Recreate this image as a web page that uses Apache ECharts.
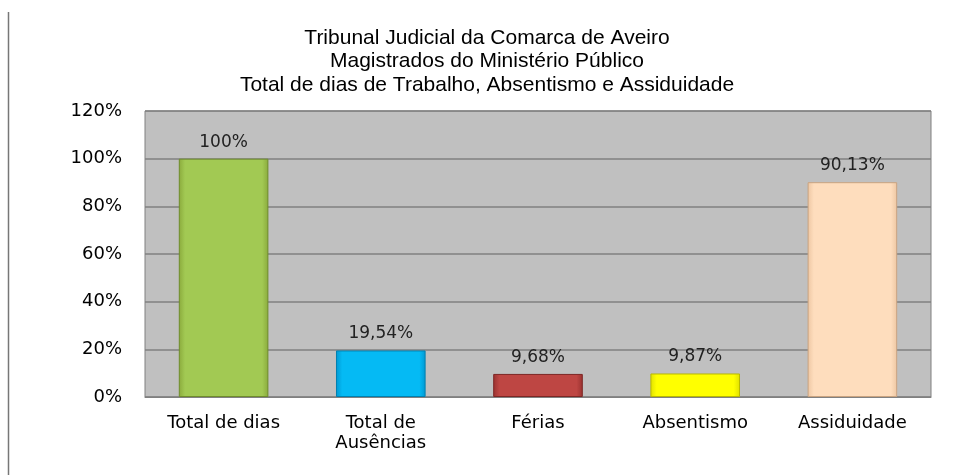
<!DOCTYPE html>
<html>
<head>
<meta charset="utf-8">
<script src="https://cdn.jsdelivr.net/npm/echarts@6/dist/echarts.min.js"></script>
<style>
  html, body { margin: 0; padding: 0; background: #fff; }
  #chart { width: 974px; height: 475px; }
</style>
</head>
<body>
<div id="chart"></div>
<script>
// dados
const categorias = ['Total de dias', 'Total de\nAusências', 'Férias', 'Absentismo', 'Assiduidade']
const valores = [100, 19.54, 9.68, 9.87, 90.13]
const rotulos = ['100%', '19,54%', '9,68%', '9,87%', '90,13%']
const titulo = 'Tribunal Judicial da Comarca de Aveiro\nMagistrados do Ministério Público\nTotal de dias de Trabalho, Absentismo e Assiduidade'

// cores: [borda, centro, contorno]
const cores = [
  ['#8AAA3C', '#A2C953', '#6F8C2C'],
  ['#0098D2', '#05BAF4', '#0080B0'],
  ['#9A3230', '#BE4643', '#7E2624'],
  ['#E0E000', '#FFFF00', '#B8B800'],
  ['#EDC6A2', '#FEDDBD', '#C9A380']
]

function barra(i) {
  const c = cores[i]
  return {
    value: valores[i],
    itemStyle: {
      color: {
        type: 'linear', x: 0, y: 0, x2: 1, y2: 0,
        colorStops: [
          { offset: 0, color: c[0] },
          { offset: 0.07, color: c[1] },
          { offset: 0.93, color: c[1] },
          { offset: 1, color: c[0] }
        ]
      },
      borderColor: c[2],
      borderWidth: 1
    }
  }
}

const myChart = echarts.init(document.getElementById('chart'))
const option = {
  backgroundColor: '#fff',
  animation: false,
  title: {
    text: titulo,
    left: 'center',
    top: 21,
    textStyle: {
      fontFamily: 'Liberation Sans, Arial, sans-serif',
      fontSize: 21,
      fontWeight: 'normal',
      color: '#000',
      lineHeight: 23.5
    }
  },
  grid: {
    left: 145,
    right: 43,
    top: 111,
    bottom: 78,
    show: true,
    backgroundColor: '#C0C0C0',
    borderColor: '#808080',
    borderWidth: 1
  },
  xAxis: {
    type: 'category',
    data: categorias,
    axisLine: { show: true, lineStyle: { color: '#808080', width: 1 } },
    axisTick: { show: false },
    axisLabel: {
      margin: 16,
      fontFamily: 'DejaVu Sans, Verdana, sans-serif',
      fontSize: 18,
      color: '#000',
      lineHeight: 20,
      interval: 0
    }
  },
  yAxis: {
    type: 'value',
    min: 0,
    max: 120,
    interval: 20,
    axisLine: { show: false },
    axisTick: { show: false },
    splitLine: { lineStyle: { color: '#808080', width: 1.5 } },
    axisLabel: {
      formatter: '{value}%',
      margin: 23,
      fontFamily: 'DejaVu Sans, Verdana, sans-serif',
      fontSize: 18,
      color: '#000'
    }
  },
  series: [{
    type: 'bar',
    barWidth: '57%',
    data: valores.map((v, i) => barra(i)),
    label: {
      show: true,
      position: 'top',
      distance: 8,
      formatter: p => rotulos[p.dataIndex],
      fontFamily: 'DejaVu Sans, Verdana, sans-serif',
      fontSize: 17,
      color: '#222'
    }
  }],
  graphic: [{
    type: 'line',
    shape: { x1: 8.5, y1: 12, x2: 8.5, y2: 475 },
    style: { stroke: '#777', lineWidth: 1.5 }
  }]
}
myChart.setOption(option)
</script>
</body>
</html>
